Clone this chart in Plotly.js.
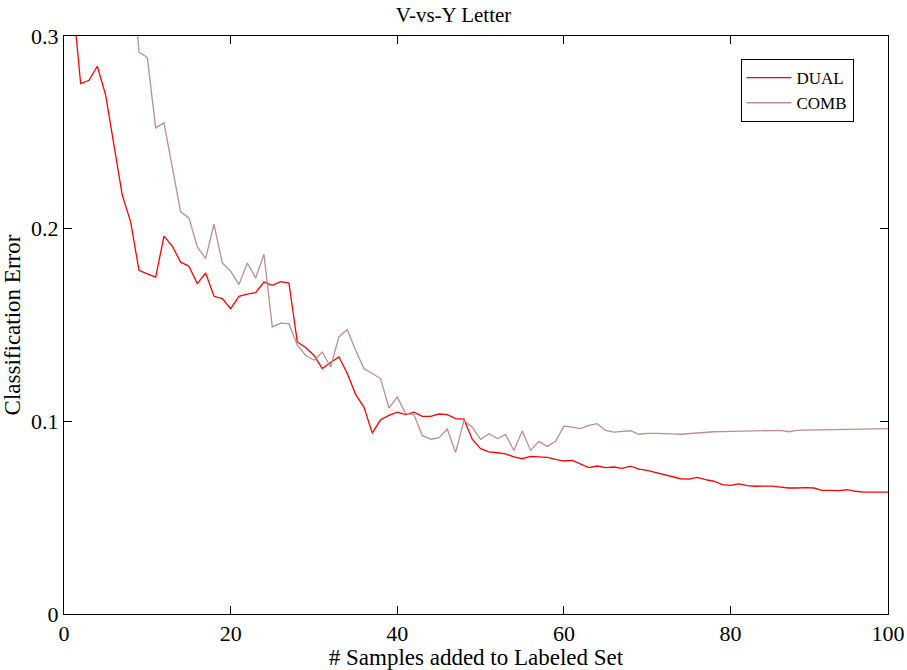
<!DOCTYPE html>
<html>
<head>
<meta charset="utf-8">
<script src="https://cdn.plot.ly/plotly-3.0.1.min.js"></script>
<style>
html, body { margin: 0; padding: 0; background: #fff; }
#chart { width: 907px; height: 670px; }
</style>
</head>
<body>
<div id="chart"></div>
<script>
// Samples added to labeled set: 1..99
const sampleCount = 99;

const dualError = [
  0.321, 0.2753, 0.277, 0.2843, 0.2693, 0.2433, 0.2173, 0.2035, 0.1784, 0.1765,
  0.1748, 0.1961, 0.1909, 0.1826, 0.1805, 0.1715, 0.177, 0.1649, 0.1637, 0.1585,
  0.1649, 0.166, 0.1668, 0.1723, 0.1706, 0.1725, 0.1718, 0.1412, 0.1383, 0.1343,
  0.1274, 0.1305, 0.1334, 0.1248, 0.1140, 0.1074, 0.0939, 0.1008, 0.1031, 0.1048,
  0.1035, 0.1048, 0.1026, 0.1026, 0.1038, 0.1035, 0.1014, 0.1011, 0.0907, 0.0858,
  0.0841, 0.0837, 0.0831, 0.0815, 0.0806, 0.0818, 0.0815, 0.0813, 0.0803, 0.0794,
  0.0797, 0.0777, 0.076, 0.0768, 0.076, 0.0763, 0.0756, 0.0767, 0.0752, 0.0746,
  0.0734, 0.0723, 0.0713, 0.0702, 0.07, 0.0709, 0.0697, 0.0689, 0.0671, 0.0668,
  0.0675, 0.0666, 0.0663, 0.0663, 0.0664, 0.0659, 0.0654, 0.0654, 0.0656, 0.0654,
  0.0642, 0.0642, 0.064, 0.0645, 0.0637, 0.0633, 0.0633, 0.0635, 0.0633
];

const combError = [
  null, null, null, null, null, null, null, 0.345, 0.2917, 0.2888,
  0.2523, 0.2549, 0.231, 0.2087, 0.2056, 0.1905, 0.1845, 0.2023, 0.1822, 0.1779,
  0.171, 0.1822, 0.1744, 0.1867, 0.149, 0.151, 0.1507, 0.1395, 0.1343, 0.1317,
  0.136, 0.1282, 0.1438, 0.1476, 0.1369, 0.1274, 0.1248, 0.1222, 0.1069, 0.1126,
  0.104, 0.1035, 0.0927, 0.0907, 0.0914, 0.096, 0.0838, 0.1004, 0.0969, 0.0907,
  0.0936, 0.0911, 0.0931, 0.0849, 0.095, 0.0849, 0.0896, 0.087, 0.0896, 0.0975,
  0.097, 0.0962, 0.0979, 0.0988, 0.0953, 0.0944, 0.0948, 0.0951, 0.0933, 0.0938,
  0.0937, 0.0937, 0.0935, 0.0933, 0.0937, 0.094, 0.0945, 0.0946, 0.0947, 0.0948,
  0.0949, 0.095, 0.095, 0.0951, 0.0952, 0.0953, 0.0946, 0.0953, 0.0954, 0.0955,
  0.0955, 0.0956, 0.0957, 0.0958, 0.0958, 0.0959, 0.096, 0.0961, 0.0962
];

const xTickVals = [0, 20, 40, 60, 80, 98.9];
const xTickText = ['0', '20', '40', '60', '80', '100'];
const yTickVals = [0, 0.1, 0.2, 0.3];
const yTickText = ['0', '0.1', '0.2', '0.3'];

const xs = [];
for (let i = 1; i <= sampleCount; i++) xs.push(i);

const serif = 'Liberation Serif, Times New Roman, serif';

const traces = [
  { x: xs, y: dualError, name: 'DUAL', type: 'scatter', mode: 'lines',
    line: { color: '#ff0000', width: 1.3 } },
  { x: xs, y: combError, name: 'COMB', type: 'scatter', mode: 'lines',
    line: { color: '#bc8f8f', width: 1.3 } }
];

const layout = {
  width: 907, height: 670,
  margin: { l: 64, r: 18.5, t: 35.7, b: 56.4 },
  paper_bgcolor: '#fff', plot_bgcolor: '#fff',
  font: { family: serif, size: 22, color: '#000' },
  title: { text: 'V-vs-Y Letter', x: 0.5, xanchor: 'center',
    yref: 'container', y: 0.978, yanchor: 'middle',
    font: { family: serif, size: 21, color: '#000' } },
  xaxis: {
    range: [0, 98.9], tickvals: xTickVals, ticktext: xTickText,
    ticks: 'inside', ticklen: 8, tickwidth: 1, tickcolor: '#000',
    showline: true, linecolor: '#000', linewidth: 1, mirror: 'ticks',
    showgrid: false, zeroline: false,
    tickfont: { family: serif, size: 22 },
    title: { text: '# Samples added to Labeled Set', standoff: 2,
      font: { family: serif, size: 23 } }
  },
  yaxis: {
    range: [0, 0.3], tickvals: yTickVals, ticktext: yTickText,
    ticks: 'inside', ticklen: 8, tickwidth: 1, tickcolor: '#000',
    showline: true, linecolor: '#000', linewidth: 1, mirror: 'ticks',
    showgrid: false, zeroline: false,
    tickfont: { family: serif, size: 22 },
    title: { text: 'Classification Error', standoff: 4,
      font: { family: serif, size: 23 } }
  },
  showlegend: true,
  legend: {
    x: 0.821, y: 0.96, xanchor: 'left', yanchor: 'top',
    bgcolor: '#fff', bordercolor: '#000', borderwidth: 1,
    font: { family: serif, size: 17, color: '#000' },
    itemwidth: 45, tracegroupgap: 0
  }
};

Plotly.newPlot('chart', traces, layout, { displayModeBar: false, staticPlot: true });
</script>
</body>
</html>
